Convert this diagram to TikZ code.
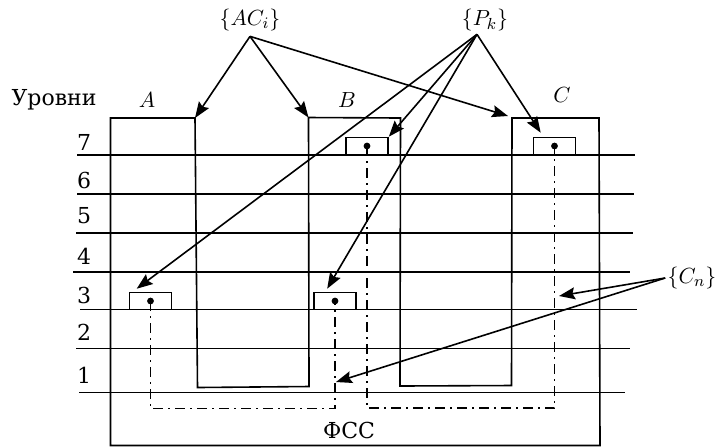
\documentclass[tikz,border=0pt]{standalone}
\usepackage{fontspec}
\setmainfont{DejaVu Serif}
\usetikzlibrary{arrows.meta, calc}
\tikzset{
  frame/.style={line width=0.8pt},
  levelline/.style={line width=0.8pt},
  pbox/.style={rectangle, draw, line width=0.8pt, minimum width=21pt,
    minimum height=8.5pt, inner sep=0pt},
  arrow/.style={-{Stealth[length=8pt, width=6pt, inset=1.2pt]}, line width=0.8pt},
  link/.style={line width=0.75pt, dash pattern=on 5pt off 2.5pt on 1pt off 2.5pt},
  lbl/.style={font=\fontsize{11}{13}\selectfont, inner sep=1pt},
}
\begin{document}
\begin{tikzpicture}[x=0.5pt, y=-0.5pt]
\useasboundingbox (0,0) rectangle (717,447);
\draw[frame] (110.5,118) coordinate (atl) -- (195,118) coordinate (atr)
  -- (197.5,387.5) -- (309,386.5) -- (308.5,117.5) coordinate (btl)
  -- (400.5,118) -- (400,386) -- (511.5,385.5) -- (512,118) coordinate (ctl)
  -- (599,118) -- (600,445.5) -- (110.5,445.5) -- cycle;
\foreach \y/\xa/\xb in {155/77/635, 194/77/634, 232.7/76/633, 271.7/73/630,
  309.3/80/637, 348.3/76/630, 392.3/79/625}
  \draw[levelline] (\xa,\y) -- (\xb,\y);
\foreach \n/\y in {7/142, 6/180, 5/216, 4/256, 3/295, 2/332, 1/375}
  \node[lbl] (lv\n) at (84,\y) {\n};
\node[lbl] (levels) at (54,100) {Уровни};
\node[lbl] (na) at (147,100) {$A$};
\node[lbl] (nb) at (347,100) {$B$};
\node[lbl] (nc) at (562,95) {$C$};
\node[lbl] (fss) at (349,430) {ФСС};
\node[pbox] (pa3) at (150.5,301) {};
\node[pbox] (pb3) at (335,301) {};
\node[pbox] (pb7) at (367,146) {};
\node[pbox] (pc7) at (554.5,146) {};
\foreach \p in {pa3, pb3, pb7, pc7}
  \fill (\p.center) circle[radius=1.7pt];
\coordinate (busab) at (0,408.5);
\coordinate (busbc) at (0,408);
\draw[link] (pa3.center) -- (pa3.center |- busab) -| (pb3.center);
\draw[link] (pb7.center) -- (pb7.center |- busbc) -| (pc7.center);
\node[lbl] (ac) at (250,20) {$\{AC_i\}$};
\node[lbl] (pk) at (485,20) {$\{P_k\}$};
\node[lbl] (cn) at (692,278) {$\{C_n\}$};
\coordinate (acp) at ([yshift=-1.5pt]ac.south);
\coordinate (pkp) at ([xshift=-4pt, yshift=-0.5pt]pk.south);
\coordinate (cnc) at (559,296);
\coordinate (cnb) at (336,382);
\draw[arrow] (acp) -- (atr);
\draw[arrow] (acp) -- (btl);
\draw[arrow] (acp) -- ($(ctl)+(-4,-2)$);
\draw[arrow] (pkp) -- ($(pc7.north west)+(8,-4)$);
\draw[arrow] (pkp) -- (pb7.north east);
\draw[arrow] (pkp) -- ($(pb3.north west)+(14,-3)$);
\draw[arrow] (pkp) -- ($(pa3.north west)+(8,-3)$);
\draw[arrow] (cn.west) -- (cnc);
\draw[arrow] (cn.west) -- (cnb);
\end{tikzpicture}
\end{document}
